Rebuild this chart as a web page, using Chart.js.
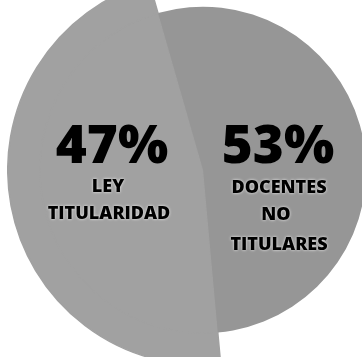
<!DOCTYPE html>
<html>
<head>
<meta charset="utf-8">
<script src="https://cdn.jsdelivr.net/npm/chart.js@4/dist/chart.umd.min.js"></script>
<style>
  html, body { margin: 0; padding: 0; background: #ffffff; overflow: hidden; width: 362px; height: 357px; }
  #c { position: absolute; left: 7px; top: -26px; }
</style>
</head>
<body>
<canvas id="c" width="392" height="392"></canvas>
<script>
const categories = ['LEY TITULARIDAD', 'DOCENTES NO TITULARES'];
const values = [47, 53];
const percentLabels = ['47%', '53%'];
const textLines = [['LEY', 'TITULARIDAD'], ['DOCENTES', 'NO', 'TITULARES']];

const sliceColors = ['#a1a1a1', '#969696'];

const labelPlugin = {
  id: 'sliceLabels',
  afterDatasetsDraw(chart) {
    const ctx = chart.ctx;
    const arcs = chart.getDatasetMeta(1).data;
    const layout = [
      { pct: [-91, -22], lines: [[-95, 17], [-94, 44]] },
      { pct: [75, -22], lines: [[76, 17.5], [73, 45], [76, 74.5]] }
    ];
    ctx.save();
    ctx.textAlign = 'center';
    ctx.textBaseline = 'middle';
    arcs.forEach((arc, i) => {
      const cx = arc.x, cy = arc.y;
      const L = layout[i];
      ctx.fillStyle = '#000';
      ctx.shadowColor = 'rgba(0,0,0,0)';
      ctx.shadowBlur = 0;
      ctx.font = '800 53px "Open Sans", Lato, sans-serif';
      ctx.fillText(percentLabels[i], cx + L.pct[0], cy + L.pct[1]);
      ctx.font = '800 18px "Open Sans", Lato, sans-serif';
      ctx.shadowColor = 'rgba(255,255,255,0.9)';
      ctx.shadowBlur = 3;
      textLines[i].forEach((t, j) => {
        ctx.fillText(t, cx + L.lines[j][0], cy + L.lines[j][1]);
      });
    });
    ctx.restore();
  }
};

new Chart(document.getElementById('c'), {
  type: 'pie',
  data: {
    labels: categories,
    datasets: [
      {
        data: values,
        backgroundColor: [sliceColors[0], 'rgba(0,0,0,0)'],
        borderColor: [sliceColors[0], 'rgba(0,0,0,0)'],
        borderWidth: [1.5, 0],
        weight: 32
      },
      {
        data: values,
        backgroundColor: sliceColors,
        borderColor: [sliceColors[0], 'rgba(0,0,0,0)'],
        borderWidth: [1.5, 0],
        weight: 163
      }
    ]
  },
  options: {
    responsive: false,
    animation: false,
    events: [],
    rotation: 174.8,
    hoverOffset: 0,
    layout: { padding: 0 },
    plugins: { legend: { display: false }, tooltip: { enabled: false } }
  },
  plugins: [labelPlugin]
});
</script>
</body>
</html>
